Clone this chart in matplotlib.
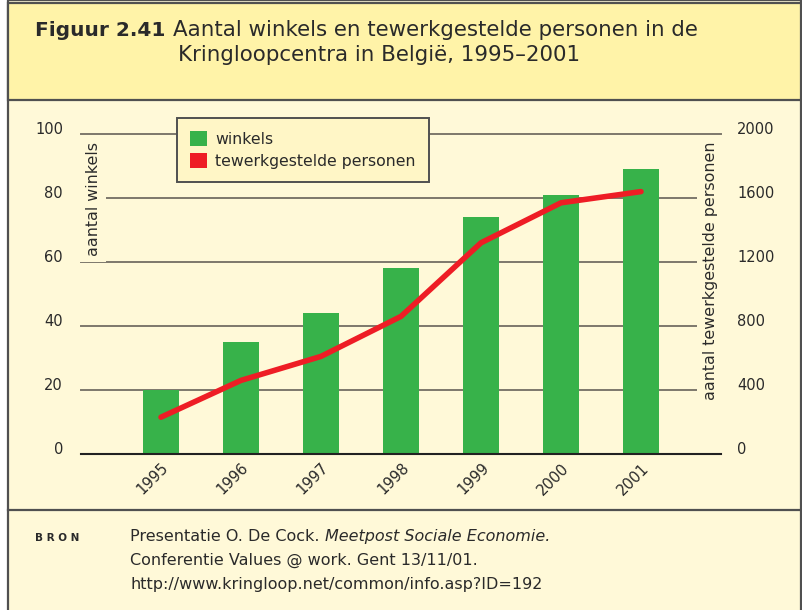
import matplotlib.pyplot as plt
from matplotlib.patches import Rectangle, Patch
from matplotlib.lines import Line2D

years = ['1995', '1996', '1997', '1998', '1999', '2000', '2001']
winkels = [20, 35, 44, 58, 74, 81, 89]
personen = [230, 460, 610, 860, 1320, 1570, 1640]

W, H = 803, 610
PANEL = '#FFF9D8'
TITLEBG = '#FFF3A8'
EDGE = '#505050'
GREEN = '#37B24A'
RED = '#EE1D25'
TXT = '#2a2a2a'

plt.rcParams['font.family'] = 'DejaVu Sans'

fig = plt.figure(figsize=(W / 100, H / 100), dpi=100, facecolor='white')


def fx(x):
    return x / W


def fy(y):
    return 1 - y / H


# panel background, title block and divider
fig.patches.append(Rectangle((fx(8), fy(612)), fx(793), 612 / H, transform=fig.transFigure,
                             facecolor=PANEL, edgecolor=EDGE, lw=1.6, zorder=-3))
fig.patches.append(Rectangle((fx(8), fy(100)), fx(793), 97 / H, transform=fig.transFigure,
                             facecolor=TITLEBG, edgecolor=EDGE, lw=1.6, zorder=-2))
fig.lines.append(Line2D([fx(8), fx(801)], [fy(510), fy(510)], transform=fig.transFigure,
                        color=EDGE, lw=1.6, zorder=-1))

# title
fig.text(fx(35), fy(36), 'Figuur 2.41', fontsize=14.5, fontweight='bold',
         color=TXT, va='baseline')
fig.text(fx(173), fy(36), 'Aantal winkels en tewerkgestelde personen in de',
         fontsize=15.4, color=TXT, va='baseline')
fig.text(fx(178), fy(61), 'Kringloopcentra in België, 1995–2001',
         fontsize=15.4, color=TXT, va='baseline')

# chart
ax = fig.add_axes([fx(81), fy(454), 640 / W, 320 / H])
ax.set_facecolor('none')
x = list(range(len(years)))
ax.bar(x, winkels, width=0.46, color=GREEN, zorder=2)
ax.set_xlim(-1, 7)
ax.set_ylim(0, 100)
ax.set_yticks(range(0, 101, 20))
ax.set_xticks(x)
ax.set_xticklabels(years, rotation=45, ha='right', va='top', rotation_mode='anchor')
ax.yaxis.grid(True, color='#7d786c', lw=1.4)
for gl in ax.get_ygridlines():
    gl.set_clip_on(False)
ax.set_axisbelow(True)
for s in ['left', 'right', 'top']:
    ax.spines[s].set_visible(False)
ax.spines['bottom'].set_color('#222222')
ax.spines['bottom'].set_linewidth(1.5)
ax.spines['bottom'].set_zorder(3)
ax.tick_params(axis='y', length=0, pad=13, labelsize=10.5, labelcolor=TXT)
ax.tick_params(axis='x', length=0, pad=4.5, labelsize=10.7, labelcolor=TXT)
for lab in ax.get_yticklabels():
    lab.set_va('baseline')

ax2 = ax.twinx()
ax2.plot(x, personen, color=RED, lw=4, solid_capstyle='round', zorder=3)
ax2.set_ylim(0, 2000)
ax2.set_yticks(range(0, 2001, 400))
for s in ax2.spines.values():
    s.set_visible(False)
ax2.tick_params(axis='y', length=0, pad=11.5, labelsize=10.5, labelcolor=TXT)
for lab in ax2.get_yticklabels():
    lab.set_va('baseline')

lbl_box = dict(facecolor=PANEL, edgecolor='none', pad=4)
ax.text(0.019, 0.975, 'aantal winkels', transform=ax.transAxes, rotation=90,
        ha='center', va='top', fontsize=11.4, color=TXT, bbox=lbl_box, zorder=4)
ax.text(0.983, 0.975, 'aantal tewerkgestelde personen', transform=ax.transAxes, rotation=90,
        ha='center', va='top', fontsize=11.4, color=TXT, bbox=lbl_box, zorder=4)

handles = [Patch(facecolor=GREEN, edgecolor='none', label='winkels'),
           Patch(facecolor=RED, edgecolor='none', label='tewerkgestelde personen')]
leg = ax2.legend(handles=handles, loc='upper left', bbox_to_anchor=(fx(177), fy(118)),
                 bbox_transform=fig.transFigure, borderaxespad=0, fancybox=False,
                 facecolor='#FFF6C6', edgecolor=EDGE, framealpha=1, fontsize=11.3,
                 handlelength=1.09, handleheight=1.09, handletextpad=0.5,
                 labelspacing=0.38, borderpad=0.85, labelcolor=TXT)
leg.get_frame().set_linewidth(1.4)

# source block
fig.text(fx(35), fy(541), 'B R O N', fontsize=7.5, fontweight='bold', color=TXT, va='baseline')
src = fig.text(fx(130), fy(541), 'Presentatie O. De Cock. ', fontsize=11.5, color=TXT,
               va='baseline')
fig.canvas.draw()
fig.text(src.get_window_extent().x1 / W, fy(541), 'Meetpost Sociale Economie.',
         fontsize=11.5, style='italic', color=TXT, va='baseline')
fig.text(fx(130), fy(565), 'Conferentie Values @ work. Gent 13/11/01.', fontsize=11.5,
         color=TXT, va='baseline')
fig.text(fx(130), fy(589), 'http://www.kringloop.net/common/info.asp?ID=192', fontsize=11.5,
         color=TXT, va='baseline')

fig.savefig('out.png', dpi=100, facecolor='white')
